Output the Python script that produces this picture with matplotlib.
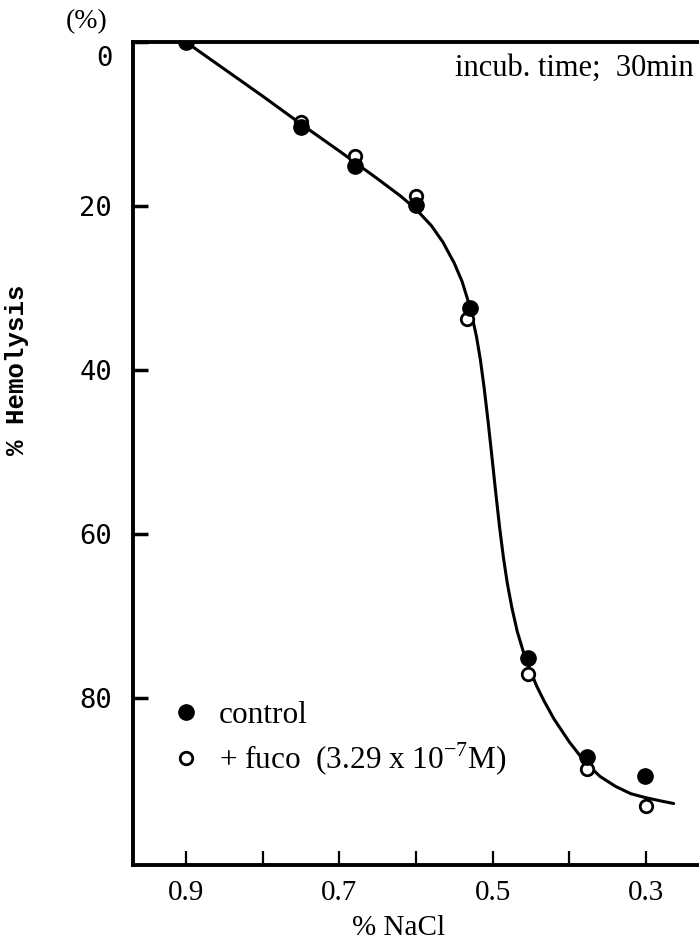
import matplotlib
matplotlib.use("Agg")
import matplotlib.pyplot as plt
from matplotlib.transforms import ScaledTranslation

# ----------------------------
# Data
# ----------------------------
nacl_ctrl = [0.90, 0.75, 0.68, 0.60, 0.53, 0.454, 0.377, 0.302]
hemo_ctrl = [0.0, 10.4, 15.1, 19.9, 32.4, 75.2, 87.2, 89.5]

nacl_fuco = [0.75, 0.68, 0.60, 0.533, 0.454, 0.377, 0.30]
hemo_fuco = [9.7, 13.9, 18.8, 33.8, 77.1, 88.7, 93.2]

# hand-drawn fitted curve
curve_x = [0.90, 0.85, 0.80, 0.75, 0.70, 0.65, 0.62, 0.60, 0.58, 0.565,
           0.55, 0.54, 0.533, 0.527, 0.521, 0.516, 0.511, 0.506, 0.501,
           0.496, 0.491, 0.486, 0.481, 0.475, 0.468, 0.460, 0.452, 0.443,
           0.433, 0.42, 0.40, 0.38, 0.36, 0.34, 0.32, 0.30, 0.28, 0.264]
curve_y = [0.0, 3.3, 6.6, 10.0, 13.3, 16.7, 18.8, 20.4, 22.4, 24.4,
           27.0, 29.2, 31.3, 33.4, 36.0, 38.8, 42.3, 46.3, 50.6,
           55.0, 59.2, 62.9, 66.0, 69.0, 71.9, 74.4, 76.4, 78.5,
           80.4, 82.6, 85.4, 87.8, 89.6, 90.8, 91.7, 92.2, 92.6, 92.9]

x_ticks = [0.9, 0.8, 0.7, 0.6, 0.5, 0.4, 0.3]
x_ticklabels = ["0.9", "", "0.7", "", "0.5", "", "0.3"]
y_ticks = [0, 20, 40, 60, 80]
y_ticklabels = ["0", "20", "40", "60", "80"]

SERIF = "Liberation Serif"
plt.rcParams["mathtext.fontset"] = "custom"
plt.rcParams["mathtext.rm"] = SERIF

# ----------------------------
# Figure
# ----------------------------
W, H = 699, 949
fig = plt.figure(figsize=(W / 100, H / 100), dpi=100)
ax = fig.add_axes([133 / W, 1 - 865 / H, 566 / W, 823 / H])

ax.plot(curve_x, curve_y, color="black", lw=2.2, solid_capstyle="round",
        solid_joinstyle="round", zorder=2)
h_fuco, = ax.plot(nacl_fuco, hemo_fuco, "o", ms=9, mfc="white", mec="black",
                  mew=2.0, ls="none", zorder=3)
h_ctrl, = ax.plot(nacl_ctrl, hemo_ctrl, "o", ms=11, mfc="black", mec="black",
                  ls="none", zorder=4)

ax.set_xlim(0.969, 0.231)
ax.set_ylim(100.4, 0)

for s in ["left", "top", "bottom"]:
    ax.spines[s].set_linewidth(2.8)
ax.spines["right"].set_visible(False)

ax.set_xticks(x_ticks)
ax.set_xticklabels(x_ticklabels, fontfamily=SERIF, fontsize=21)
ax.set_yticks(y_ticks)
ax.set_yticklabels(y_ticklabels, fontfamily="DejaVu Sans Mono", fontsize=19.5)
ax.tick_params(axis="x", direction="in", length=10, width=1.6, pad=11)
ax.tick_params(axis="y", direction="in", length=11, width=2.5, pad=15)

# the "0" label sits a bit below the top line in the original
lab0 = ax.yaxis.get_major_ticks()[0].label1
lab0.set_transform(lab0.get_transform()
                   + ScaledTranslation(0, -0.14, fig.dpi_scale_trans))

ax.legend([h_ctrl, h_fuco],
          ["control", r"+ fuco  (3.29 x 10$^{\mathregular{-7}}$M)"],
          loc="upper left", bbox_to_anchor=(0.066, 0.199), borderaxespad=0,
          borderpad=0, frameon=False, handlelength=1.0, handletextpad=0.55,
          labelspacing=0.33, prop={"family": SERIF, "size": 22.5})

ax.text(0.99, 0.968, "incub. time;  30min", transform=ax.transAxes,
        ha="right", va="center", fontfamily=SERIF, fontsize=22)

fig.text(87 / W, 1 - 22 / H, "(%)", ha="center", va="center",
         fontfamily=SERIF, fontsize=20)
fig.text(17 / W, 1 - 370 / H, "% Hemolysis", rotation=90, ha="center",
         va="center", fontfamily="Liberation Mono", fontweight="bold",
         fontsize=18.5)
fig.text(399 / W, 1 - 928 / H, "% NaCl", ha="center", va="center",
         fontfamily=SERIF, fontsize=21)

fig.savefig("out.png", dpi=100, facecolor="white")
